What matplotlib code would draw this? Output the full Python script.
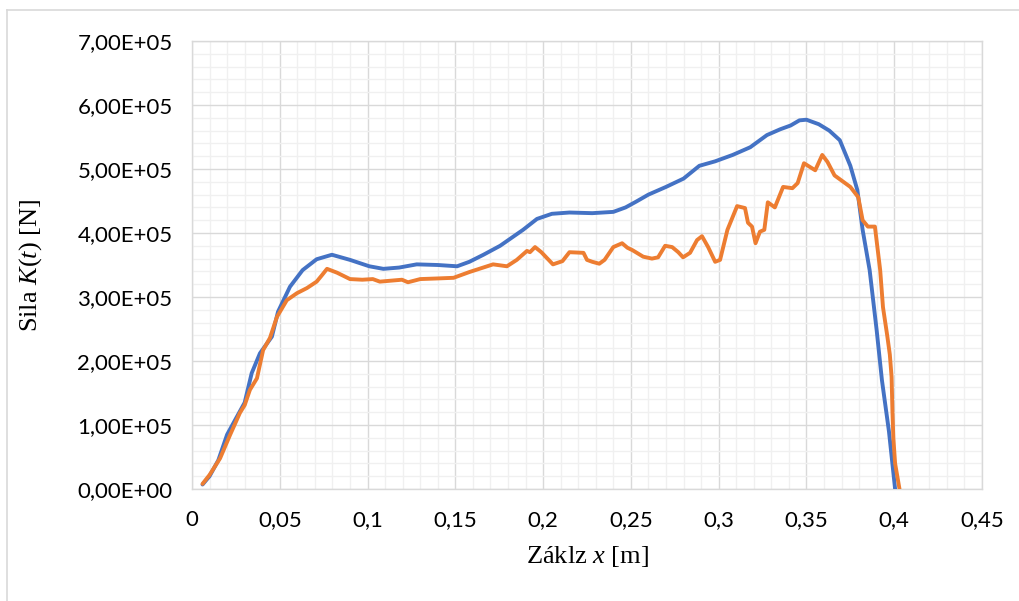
import matplotlib
matplotlib.use("Agg")
import matplotlib.pyplot as plt
from matplotlib.lines import Line2D

# Blue series: x [m], force [1e5 N]
blue_x = [0.006, 0.010, 0.015, 0.020, 0.025, 0.030, 0.034, 0.0387, 0.0455, 0.049,
          0.0558, 0.063, 0.071, 0.0797, 0.090, 0.101, 0.109, 0.118, 0.128, 0.140,
          0.151, 0.158, 0.166, 0.1755, 0.1886, 0.1965, 0.205, 0.215, 0.228, 0.240,
          0.247, 0.253, 0.260, 0.270, 0.280, 0.289, 0.298, 0.308, 0.318, 0.3275,
          0.335, 0.341, 0.346, 0.350, 0.357, 0.363, 0.369, 0.375, 0.379, 0.382,
          0.386, 0.390, 0.393, 0.397, 0.4005]
blue_y = [0.07, 0.20, 0.45, 0.85, 1.10, 1.35, 1.81, 2.12, 2.38, 2.77,
          3.16, 3.42, 3.59, 3.66, 3.58, 3.48, 3.44, 3.46, 3.51, 3.50,
          3.48, 3.55, 3.66, 3.80, 4.05, 4.22, 4.30, 4.32, 4.31, 4.33,
          4.40, 4.49, 4.60, 4.72, 4.85, 5.05, 5.12, 5.22, 5.34, 5.53,
          5.62, 5.68, 5.76, 5.77, 5.70, 5.60, 5.45, 5.05, 4.67, 4.05,
          3.42, 2.48, 1.70, 0.90, 0.00]

# Orange series
orange_x = [0.006, 0.010, 0.016, 0.0216, 0.0273, 0.030, 0.033, 0.037, 0.0405, 0.0444,
            0.0484, 0.054, 0.0598, 0.0655, 0.071, 0.074, 0.0769, 0.0826, 0.090, 0.097,
            0.103, 0.107, 0.1196, 0.123, 0.130, 0.140, 0.149, 0.158, 0.1715, 0.1794,
            0.185, 0.1908, 0.1925, 0.1954, 0.199, 0.2056, 0.211, 0.215, 0.223, 0.225,
            0.228, 0.232, 0.235, 0.240, 0.245, 0.248, 0.251, 0.257, 0.262, 0.2655,
            0.2695, 0.2735, 0.277, 0.2797, 0.2837, 0.2877, 0.2905, 0.294, 0.298, 0.3008,
            0.305, 0.3105, 0.315, 0.3167, 0.319, 0.321, 0.3235, 0.326, 0.328, 0.332,
            0.3367, 0.342, 0.345, 0.3486, 0.355, 0.359, 0.362, 0.366, 0.375, 0.3795,
            0.382, 0.385, 0.389, 0.392, 0.3936, 0.396, 0.3975, 0.3985, 0.399, 0.3995,
            0.4005, 0.403]
orange_y = [0.08, 0.22, 0.48, 0.84, 1.19, 1.31, 1.55, 1.73, 2.17, 2.36,
            2.69, 2.95, 3.06, 3.14, 3.24, 3.34, 3.44, 3.38, 3.28, 3.27,
            3.28, 3.24, 3.27, 3.23, 3.28, 3.29, 3.30, 3.39, 3.51, 3.48,
            3.58, 3.72, 3.70, 3.78, 3.70, 3.51, 3.56, 3.70, 3.69, 3.58,
            3.55, 3.52, 3.58, 3.78, 3.84, 3.77, 3.73, 3.63, 3.60, 3.62,
            3.80, 3.78, 3.70, 3.62, 3.69, 3.89, 3.95, 3.78, 3.55, 3.58,
            4.05, 4.42, 4.39, 4.16, 4.10, 3.84, 4.02, 4.05, 4.48, 4.40,
            4.72, 4.70, 4.78, 5.09, 4.98, 5.22, 5.11, 4.90, 4.72, 4.56,
            4.20, 4.10, 4.10, 3.42, 2.84, 2.40, 2.10, 1.75, 1.20, 0.80,
            0.40, 0.00]

x_ticks = [0, 0.05, 0.1, 0.15, 0.2, 0.25, 0.3, 0.35, 0.4, 0.45]
x_labels = ["0", "0,05", "0,1", "0,15", "0,2", "0,25", "0,3", "0,35", "0,4", "0,45"]
y_ticks = [0, 1e5, 2e5, 3e5, 4e5, 5e5, 6e5, 7e5]
y_labels = ["0,00E+00", "1,00E+05", "2,00E+05", "3,00E+05",
            "4,00E+05", "5,00E+05", "6,00E+05", "7,00E+05"]

plt.rcParams["mathtext.fontset"] = "custom"
plt.rcParams["mathtext.rm"] = "Liberation Serif"
plt.rcParams["mathtext.it"] = "Liberation Serif:italic"

fig = plt.figure(figsize=(10.2, 6.01), dpi=100)
ax = fig.add_axes([192 / 1020, 1 - 489 / 601, 790 / 1020, 448 / 601])

ax.plot(blue_x, [v * 1e5 for v in blue_y], color="#4472C4", lw=2.8,
        solid_joinstyle="round", solid_capstyle="round", zorder=3)
ax.plot(orange_x, [v * 1e5 for v in orange_y], color="#ED7D31", lw=2.8,
        solid_joinstyle="round", solid_capstyle="round", zorder=4)

ax.set_xlim(0, 0.45)
ax.set_ylim(0, 7e5)
ax.set_xticks(x_ticks)
ax.set_xticklabels(x_labels)
ax.set_yticks(y_ticks)
ax.set_yticklabels(y_labels)
ax.set_xticks([i * 0.01 for i in range(46)], minor=True)
ax.set_yticks([i * 2e4 for i in range(36)], minor=True)

ax.grid(which="minor", color="#F0F0F0", lw=1.0, zorder=0)
ax.grid(which="major", color="#D9D9D9", lw=1.0, zorder=1)
ax.set_axisbelow(True)
for s in ax.spines.values():
    s.set_color("#D9D9D9")
    s.set_linewidth(1.0)

ax.tick_params(which="both", length=0)
ax.tick_params(axis="y", pad=14, labelsize=16, labelcolor="#000000")
ax.tick_params(axis="x", pad=15, labelsize=16, labelcolor="#000000")
for lab in ax.get_xticklabels() + ax.get_yticklabels():
    lab.set_family("Lato")

ax.set_xlabel(r"Záklz $x$ [m]", fontsize=19, family="Liberation Serif")
ax.set_ylabel(r"Sila $K(t)$ [N]", fontsize=19, family="Liberation Serif")
ax.xaxis.set_label_coords((587 - 192) / 790, (489 - 544) / 448)
ax.yaxis.set_label_coords((44 - 192) / 790, 0.5)

# chart area border
fig.add_artist(Line2D([7 / 1020, 1], [1 - 10 / 601] * 2, color="#D9D9D9", lw=1.2))
fig.add_artist(Line2D([7 / 1020] * 2, [0, 1 - 10 / 601], color="#D9D9D9", lw=1.2))

fig.savefig("out.png", dpi=100)
